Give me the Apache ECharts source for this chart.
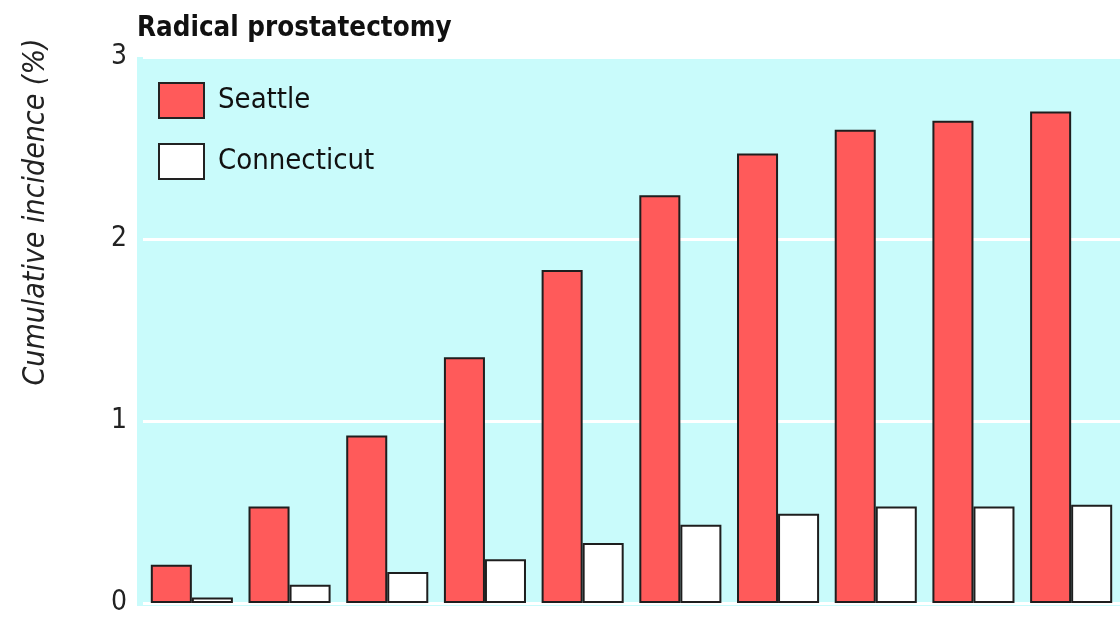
<!DOCTYPE html>
<html>
<head>
<meta charset="utf-8">
<title>Radical prostatectomy</title>
<script src="https://cdn.jsdelivr.net/npm/echarts@6/dist/echarts.min.js"></script>
<style>
  html, body { margin: 0; padding: 0; background: #fff; }
  #chart { width: 1120px; height: 617px; }
</style>
</head>
<body>
<div id="chart"></div>
<script>
// 数据
const years = ['1', '2', '3', '4', '5', '6', '7', '8', '9', '10'];
const seattle = [0.21, 0.53, 0.92, 1.35, 1.83, 2.24, 2.47, 2.60, 2.65, 2.70];
const connecticut = [0.03, 0.10, 0.17, 0.24, 0.33, 0.43, 0.49, 0.53, 0.53, 0.54];
const yTicks = [0, 1, 2, 3];

const FONT = '"Liberation Sans Narrow", "DejaVu Sans Condensed", "Liberation Sans", sans-serif';
const CYAN = '#c9fbfb';

const chart = echarts.init(document.getElementById('chart'));

chart.setOption({
  backgroundColor: '#ffffff',
  animation: false,
  title: {
    text: 'Radical prostatectomy',
    left: 132, top: 10,
    textStyle: { fontFamily: FONT, fontWeight: 'bold', fontSize: 27.5, color: '#111' }
  },
  legend: {
    orient: 'vertical',
    left: 153, top: 77,
    icon: 'rect',
    itemWidth: 45, itemHeight: 35, itemGap: 24,
    data: ['Seattle', 'Connecticut'],
    itemStyle: { borderColor: '#222', borderWidth: 2 },
    textStyle: { fontFamily: FONT, fontSize: 29, color: '#111', padding: [0, 0, 0, 9] }
  },
  grid: { left: 143, right: 0, top: 57, bottom: 11 },
  graphic: [
    {
      type: 'rect', z: -100, silent: true,
      shape: { x: 137, y: 57, width: 983, height: 549 },
      style: { fill: CYAN }
    },
    {
      type: 'text', silent: true,
      x: 36, y: 212, rotation: Math.PI / 2,
      style: {
        text: 'Cumulative incidence (%)',
        fontFamily: FONT, fontStyle: 'italic', fontSize: 30, fill: '#222',
        align: 'center', verticalAlign: 'middle'
      }
    }
  ],
  xAxis: {
    type: 'category',
    data: years,
    axisLine: { show: false },
    axisTick: { show: false },
    axisLabel: { show: false }
  },
  yAxis: {
    type: 'value',
    min: yTicks[0], max: yTicks[yTicks.length - 1], interval: 1,
    axisLine: { show: false },
    axisTick: { show: false },
    axisLabel: { fontFamily: FONT, fontSize: 28, color: '#222', margin: 16 },
    splitLine: { lineStyle: { color: '#ffffff', width: 3 } }
  },
  series: [
    {
      name: 'Seattle', type: 'bar', data: seattle,
      barGap: 0, barCategoryGap: '16%',
      itemStyle: { color: '#ff5a5a', borderColor: '#1e1e1e', borderWidth: 2 }
    },
    {
      name: 'Connecticut', type: 'bar', data: connecticut,
      barGap: 0, barCategoryGap: '16%',
      itemStyle: { color: '#ffffff', borderColor: '#1e1e1e', borderWidth: 2 }
    }
  ]
});
window.addEventListener('resize', () => chart.resize());
</script>
</body>
</html>
